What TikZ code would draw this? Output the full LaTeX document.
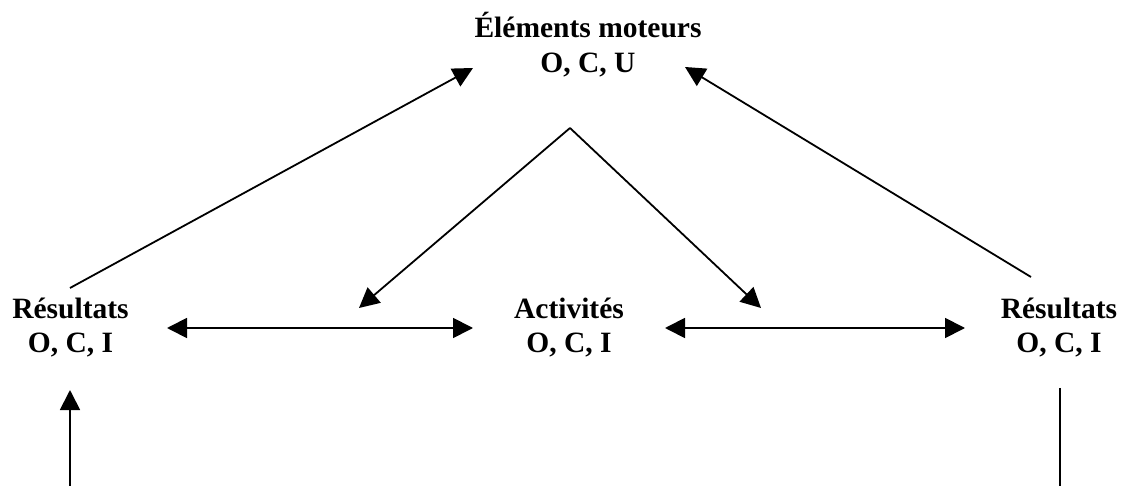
\documentclass[tikz,border=0pt]{standalone}
\usepackage{fontspec}
\setmainfont{Liberation Serif}
\usetikzlibrary{arrows.meta}
\begin{document}
\begin{tikzpicture}[x=1pt,y=-1pt,
  lbl/.style={font=\fontsize{29.5}{35}\selectfont\bfseries, align=center, inner sep=0pt, anchor=base},
  conn/.style={line width=1.8pt},
  arr/.style={conn, -{Triangle[length=20pt,width=20pt]}},
  darr/.style={conn, {Triangle[length=20pt,width=20pt]}-{Triangle[length=20pt,width=20pt]}}]
\useasboundingbox (0,0) rectangle (1133,486);
\node[lbl] (em) at (588,72.5) {Éléments moteurs\\O, C, U};
\node[lbl] (rl) at (70.5,353) {Résultats\\O, C, I};
\node[lbl] (ac) at (569,353) {Activités\\O, C, I};
\node[lbl] (rr) at (1059,353) {Résultats\\O, C, I};
% endpoints
\coordinate (apex) at (570,128);
\coordinate (tl) at (359,308);
\coordinate (tr) at (761,308);
\coordinate (rlTop) at (70,288);
\coordinate (emL) at (473,68);
\coordinate (rrTop) at (1031,277);
\coordinate (emR) at (685,67);
\coordinate (h1a) at (167,328);
\coordinate (h1b) at (473,328);
\coordinate (h2a) at (665,328);
\coordinate (h2b) at (965,328);
\coordinate (vlb) at (70,486);
\coordinate (vlt) at (70,390);
\coordinate (vrt) at (1060,388);
\coordinate (vrb) at (1060,486);
\draw[arr] (rlTop) -- (emL);
\draw[arr] (rrTop) -- (emR);
\draw[arr] (apex) -- (tl);
\draw[arr] (apex) -- (tr);
\draw[darr] (h1a) -- (h1b);
\draw[darr] (h2a) -- (h2b);
\draw[arr] (vlb) -- (vlt);
\draw[conn] (vrt) -- (vrb);
\end{tikzpicture}
\end{document}
